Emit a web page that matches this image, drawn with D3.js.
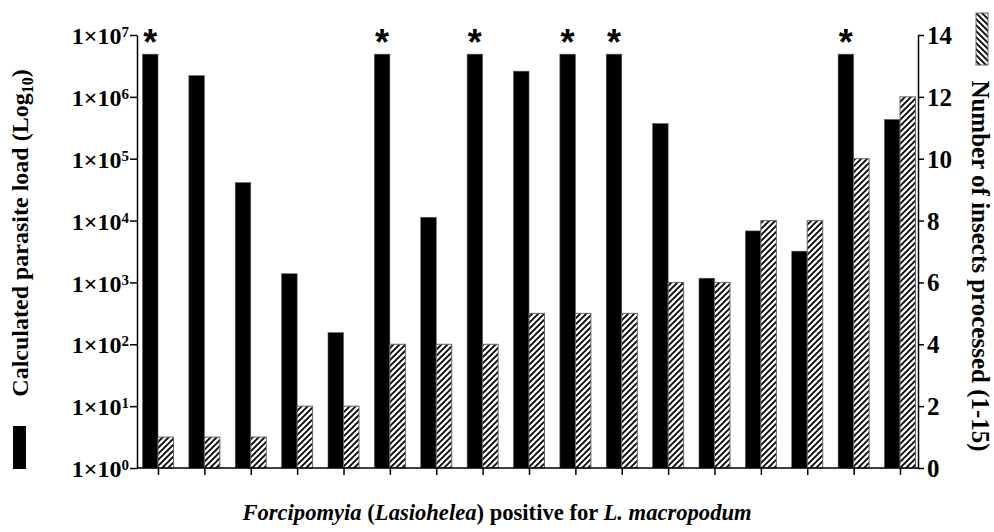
<!DOCTYPE html>
<html><head><meta charset="utf-8">
<script src="https://cdn.jsdelivr.net/npm/d3@7"></script>
<style>body{margin:0;background:#fff} svg{display:block}</style>
</head><body><svg id="c" width="994" height="532"></svg>
<script>
// ---- data ----
const groups = d3.range(1, 18).map(String);
const parasiteLoad = [4.9e6, 2.2e6, 4.1e4, 1.38e3, 154, 4.9e6, 1.13e4, 4.9e6, 2.6e6, 4.9e6, 4.9e6, 3.7e5, 1.17e3, 6.8e3, 3.2e3, 4.9e6, 4.3e5];
const insects = [1, 1, 1, 2, 2, 4, 4, 4, 5, 5, 5, 6, 6, 8, 8, 10, 12];
const significant = [1, 0, 0, 0, 0, 1, 0, 1, 0, 1, 1, 0, 0, 0, 0, 1, 0];
const leftExponents = [0, 1, 2, 3, 4, 5, 6, 7];
const rightTicks = [0, 2, 4, 6, 8, 10, 12, 14];
const leftTitle = "Calculated parasite load (Log";
const rightTitle = "Number of insects processed (1-15)";

// ---- layout ----
const svg = d3.select("#c");
const serif = "'Liberation Serif','Times New Roman',serif";
const axL = 137, axR = 918, y0 = 468, yTop = 35;
const bw = 15.5;

const x = d3.scalePoint().domain(groups).range([158, 900]);
const yL = d3.scaleLog().domain([1, 1e7]).range([y0, yTop]);
const yR = d3.scaleLinear().domain([0, 14]).range([y0, yTop]);

const defs = svg.append("defs");
const pat = defs.append("pattern").attr("id", "hatch")
  .attr("patternUnits", "userSpaceOnUse").attr("width", 6).attr("height", 6);
pat.append("rect").attr("width", 6).attr("height", 6).attr("fill", "#fff");
pat.append("path").attr("d", "M-1.5,1.5 l3,-3 M0,6 l6,-6 M4.5,7.5 l3,-3")
  .attr("stroke", "#000").attr("stroke-width", 1.8);

// bars
svg.append("g").selectAll("rect").data(groups).join("rect")
  .attr("x", d => x(d) - bw)
  .attr("width", bw)
  .attr("y", (d, i) => yL(parasiteLoad[i]))
  .attr("height", (d, i) => y0 - yL(parasiteLoad[i]))
  .attr("fill", "#000").attr("stroke", "#555").attr("stroke-width", 0.6);

svg.append("g").selectAll("rect").data(groups).join("rect")
  .attr("x", d => x(d))
  .attr("width", bw)
  .attr("y", (d, i) => yR(insects[i]))
  .attr("height", (d, i) => y0 - yR(insects[i]))
  .attr("fill", "url(#hatch)").attr("stroke", "#666").attr("stroke-width", 1);

// asterisks
svg.append("g").selectAll("text").data(groups.filter((d, i) => significant[i])).join("text")
  .attr("x", d => x(d) - bw / 2)
  .attr("y", d => yL(parasiteLoad[groups.indexOf(d)]) + 1)
  .attr("text-anchor", "middle")
  .attr("font-family", "'Liberation Sans',Arial,sans-serif")
  .attr("font-weight", "bold").attr("font-size", 36)
  .text("*");

// left axis
const gL = svg.append("g").attr("transform", `translate(${axL},0)`)
  .call(d3.axisLeft(yL).tickValues(leftExponents.map(e => Math.pow(10, e)))
    .tickSize(7).tickSizeOuter(0).tickFormat(""));
gL.selectAll("text").remove();
gL.selectAll(".tick").append("text")
  .attr("x", -8).attr("dy", "0.36em").attr("text-anchor", "end")
  .attr("fill", "#000")
  .attr("font-family", serif).attr("font-weight", "bold").attr("font-size", 24)
  .each(function(d) {
    const t = d3.select(this);
    t.append("tspan").text("1×10");
    t.append("tspan").attr("dy", -7).attr("font-size", 15).text(Math.round(Math.log10(d)));
  });

// right axis
const gR = svg.append("g").attr("transform", `translate(${axR},0)`)
  .call(d3.axisRight(yR).tickValues(rightTicks).tickSize(6).tickSizeOuter(0).tickPadding(3));
gR.selectAll("text").attr("font-family", serif).attr("font-weight", "bold")
  .attr("font-size", 25).attr("fill", "#000").attr("dy", "0.34em");

// bottom axis
const gB = svg.append("g").attr("transform", `translate(0,${y0})`)
  .call(d3.axisBottom(x).tickSize(7).tickSizeOuter(0).tickFormat(""));
gB.select(".domain").remove();
gB.append("line").attr("x1", axL).attr("x2", axR).attr("stroke", "#000");

svg.selectAll(".domain, .tick line").attr("stroke", "#000").attr("stroke-width", 1.5);
gB.selectAll("line").attr("stroke-width", 1.5);

// left title
const lt = svg.append("text")
  .attr("transform", "translate(28,233) rotate(-90)")
  .attr("text-anchor", "middle")
  .attr("font-family", serif).attr("font-weight", "bold").attr("font-size", 24);
lt.append("tspan").text(leftTitle);
lt.append("tspan").attr("dy", 5).attr("font-size", 16).text("10");
lt.append("tspan").attr("dy", -5).text(")");

// right title
svg.append("text")
  .attr("transform", "translate(972,266) rotate(90)")
  .attr("text-anchor", "middle")
  .attr("font-family", serif).attr("font-weight", "bold").attr("font-size", 25)
  .text(rightTitle);

// legend swatches
svg.append("rect").attr("x", 13).attr("y", 426).attr("width", 13).attr("height", 43).attr("fill", "#000");
svg.append("g").attr("transform", "translate(988,13) rotate(90)")
  .append("rect").attr("width", 52).attr("height", 12)
  .attr("fill", "url(#hatch)").attr("stroke", "#666").attr("stroke-width", 1);

// bottom title
const bt = svg.append("text").attr("x", 497).attr("y", 520).attr("text-anchor", "middle")
  .attr("font-family", serif).attr("font-weight", "bold").attr("font-size", 22.6);
[["Forcipomyia", true], [" (", false], ["Lasiohelea", true], [") positive for ", false], ["L. macropodum", true]]
  .forEach(([s, it]) => bt.append("tspan").attr("font-style", it ? "italic" : "normal").text(s));
</script></body></html>
